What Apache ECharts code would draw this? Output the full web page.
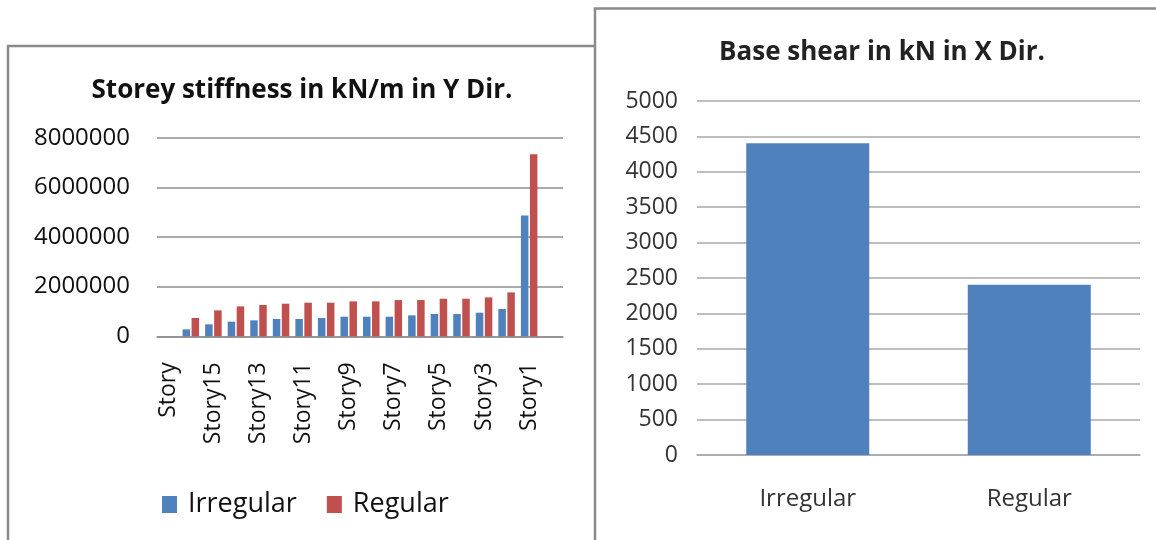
<!DOCTYPE html>
<html>
<head>
<meta charset="utf-8">
<script src="https://cdn.jsdelivr.net/npm/echarts@6/dist/echarts.min.js"></script>
<style>
  html, body { margin: 0; padding: 0; background: #fff; }
  #chart { width: 1156px; height: 540px; }
</style>
</head>
<body>
<div id="chart"></div>
<script>
// Left chart: storey stiffness (kN/m) in Y direction
const storeyCategories = ['Story', 'Story16', 'Story15', 'Story14', 'Story13', 'Story12', 'Story11', 'Story10',
  'Story9', 'Story8', 'Story7', 'Story6', 'Story5', 'Story4', 'Story3', 'Story2', 'Story1', 'Base'];
const stiffIrregular = [null, 280000, 482000, 590000, 643000, 697000, 697000, 737000, 790000, 790000,
  790000, 844000, 898000, 898000, 951000, 1099000, 4864000, null];
const stiffRegular = [null, 737000, 1045000, 1206000, 1260000, 1313000, 1353000, 1353000, 1407000, 1407000,
  1460000, 1460000, 1514000, 1514000, 1568000, 1769000, 7330000, null];
const stiffTicks = [0, 2000000, 4000000, 6000000, 8000000];

// Right chart: base shear (kN) in X direction
const shearCategories = ['Irregular', 'Regular'];
const shearValues = [4405, 2405];
const shearTicks = [0, 500, 1000, 1500, 2000, 2500, 3000, 3500, 4000, 4500, 5000];

const BLUE = '#4F81BD';
const RED = '#C0504D';
const GRID = '#8e8e8e';
const FONT = 'Open Sans';

const chart = echarts.init(document.getElementById('chart'), null, { renderer: 'canvas' });

chart.setOption({
  backgroundColor: '#ffffff',
  animation: false,
  textStyle: { fontFamily: FONT },
  graphic: [
    { type: 'polyline', z: -10, zlevel: 0, silent: true,
      shape: { points: [[8, 560], [8, 46], [594, 46]] },
      style: { fill: null, stroke: '#8a8a8a', lineWidth: 2.5 } },
    { type: 'polyline', z: -10, zlevel: 0, silent: true,
      shape: { points: [[595, 560], [595, 8.5], [1170, 8.5]] },
      style: { fill: null, stroke: '#8a8a8a', lineWidth: 2.5 } }
  ],
  title: [
    { text: 'Storey stiffness in kN/m in Y Dir.', left: 297, top: 73, textAlign: 'center',
      textStyle: { fontFamily: FONT, fontSize: 26, fontWeight: 'bold', color: '#111' } },
    { text: 'Base shear in kN in X Dir.', left: 877, top: 35, textAlign: 'center',
      textStyle: { fontFamily: FONT, fontSize: 26, fontWeight: 'bold', color: '#222' } }
  ],
  legend: {
    left: 157, top: 486,
    itemWidth: 15, itemHeight: 17, itemGap: 30,
    textStyle: { fontFamily: FONT, fontSize: 27, color: '#111', padding: [0, 0, 0, 6] },
    data: [
      { name: 'Irregular', icon: 'rect', itemStyle: { color: BLUE } },
      { name: 'Regular', icon: 'rect', itemStyle: { color: RED } }
    ]
  },
  grid: [
    { left: 157, right: 593, top: 137.7, bottom: 203.7, containLabel: false },
    { left: 697, right: 16, top: 101, bottom: 85, containLabel: false }
  ],
  xAxis: [
    {
      type: 'category', gridIndex: 0, data: storeyCategories,
      axisLine: { show: true, lineStyle: { color: GRID, width: 1.5 } },
      axisTick: { show: false },
      axisLabel: { rotate: 90, interval: 1, margin: 26, fontFamily: FONT, fontSize: 23, color: '#111' }
    },
    {
      type: 'category', gridIndex: 1, data: shearCategories,
      axisLine: { show: true, lineStyle: { color: '#a8a8a8', width: 1.5 } },
      axisTick: { show: false },
      axisLabel: { margin: 32, fontFamily: FONT, fontSize: 24, color: '#333' }
    }
  ],
  yAxis: [
    {
      type: 'value', gridIndex: 0, min: stiffTicks[0], max: stiffTicks[stiffTicks.length - 1],
      interval: stiffTicks[1] - stiffTicks[0],
      axisLine: { show: false }, axisTick: { show: false },
      splitLine: { show: true, lineStyle: { color: GRID, width: 1.5 } },
      axisLabel: { margin: 27, fontFamily: FONT, fontSize: 24, color: '#111', formatter: v => String(v) }
    },
    {
      type: 'value', gridIndex: 1, min: shearTicks[0], max: shearTicks[shearTicks.length - 1],
      interval: shearTicks[1] - shearTicks[0],
      axisLine: { show: false }, axisTick: { show: false },
      splitLine: { show: true, lineStyle: { color: '#a8a8a8', width: 1.5 } },
      axisLabel: { margin: 19, fontFamily: FONT, fontSize: 23, color: '#333', formatter: v => String(v) }
    }
  ],
  series: [
    { name: 'Irregular', type: 'bar', xAxisIndex: 0, yAxisIndex: 0, data: stiffIrregular,
      barWidth: 7.5, barGap: '20%', itemStyle: { color: BLUE } },
    { name: 'Regular', type: 'bar', xAxisIndex: 0, yAxisIndex: 0, data: stiffRegular,
      barWidth: 7.5, barGap: '20%', itemStyle: { color: RED } },
    { name: 'Base shear', type: 'bar', xAxisIndex: 1, yAxisIndex: 1, data: shearValues,
      barWidth: 123, itemStyle: { color: BLUE } }
  ]
});
</script>
</body>
</html>
